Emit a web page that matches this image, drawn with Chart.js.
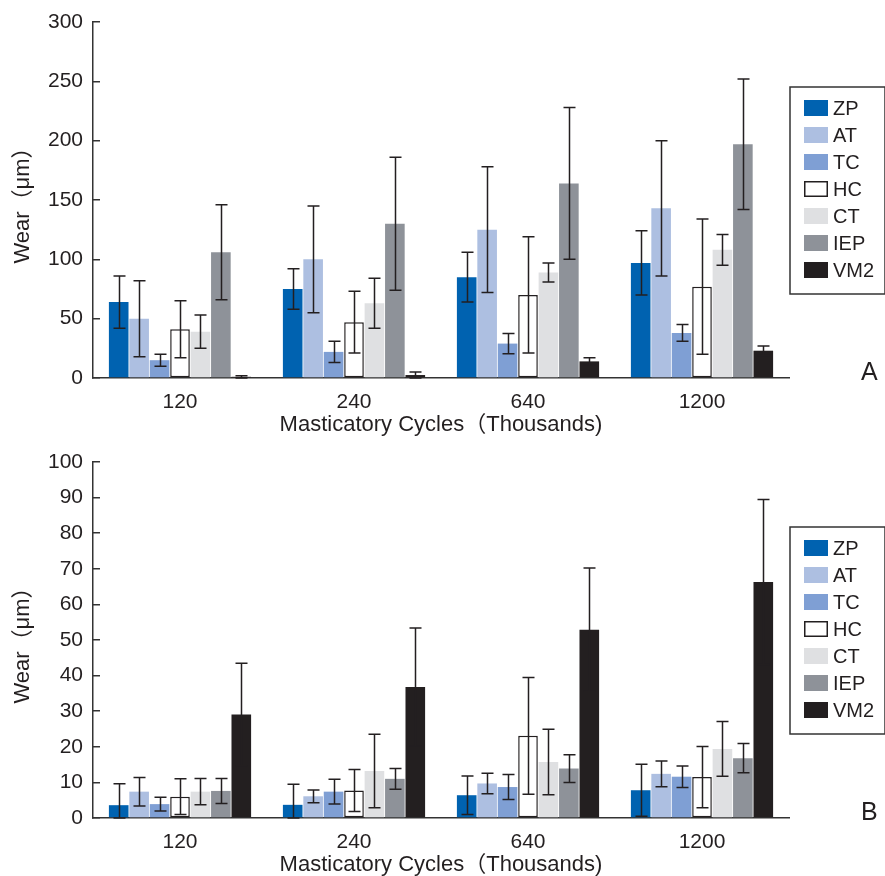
<!DOCTYPE html>
<html>
<head>
<meta charset="utf-8">
<script src="https://cdn.jsdelivr.net/npm/chart.js@4.4.1/dist/chart.umd.min.js"></script>
<style>
html, body { margin: 0; padding: 0; background: #fff; overflow: hidden; }
.painel { position: absolute; left: 0; width: 885px; height: 440px; }
#painelA { top: 0; }
#painelB { top: 440px; }
</style>
</head>
<body>
<div class="painel" id="painelA"><canvas id="graficoA" width="885" height="440"></canvas></div>
<div class="painel" id="painelB"><canvas id="graficoB" width="885" height="440"></canvas></div>
<script>
// Data
const categorias = ['120', '240', '640', '1200'];
const materiais = ['ZP', 'AT', 'TC', 'HC', 'CT', 'IEP', 'VM2'];
const cores = ['#0062b0', '#adbfe1', '#7f9fd4', '#ffffff', '#dfe0e2', '#8e9299', '#231f20'];

const ticksA = [0, 50, 100, 150, 200, 250, 300];
const ticksB = [0, 10, 20, 30, 40, 50, 60, 70, 80, 90, 100];

// Panel A - mean wear
const zpA  = [64, 75, 85, 97];
const atA  = [50, 100, 125, 143];
const tcA  = [15, 22, 29, 38];
const hcA  = [41, 47, 70, 77];
const ctA  = [39, 63, 89, 108];
const iepA = [106, 130, 164, 197];
const vm2A = [1, 2.5, 14, 23];
// Panel A - standard deviation
const zpErrA  = [22, 17, 21, 27];
const atErrA  = [32, 45, 53, 57];
const tcErrA  = [5, 9, 8.5, 7];
const hcErrA  = [24, 26, 49, 57];
const ctErrA  = [14, 21, 8, 13];
const iepErrA = [40, 56, 64, 55];
const vm2ErrA = [1, 2.5, 3, 4];

// Panel B - mean wear
const zpB  = [3.6, 3.7, 6.4, 7.8];
const atB  = [7.4, 6.1, 9.7, 12.4];
const tcB  = [3.9, 7.4, 8.7, 11.6];
const hcB  = [6.0, 7.7, 23.1, 11.5];
const ctB  = [7.4, 13.2, 15.7, 19.4];
const iepB = [7.6, 11.0, 13.9, 16.8];
const vm2B = [29.1, 36.8, 52.9, 66.3];
// Panel B - standard deviation
const zpErrB  = [6, 5.8, 5.4, 7.3];
const atErrB  = [4, 1.8, 2.9, 3.6];
const tcErrB  = [1.9, 3.5, 3.5, 3];
const hcErrB  = [5, 5.9, 16.4, 8.6];
const ctErrB  = [3.7, 10.3, 9.2, 7.7];
const iepErrB = [3.5, 2.9, 3.9, 4.1];
const vm2ErrB = [14.4, 16.6, 17.3, 23.2];

const fonte = '"Liberation Sans", "Noto Sans CJK JP", sans-serif';
const tinta = '#231f20';

Chart.defaults.font.family = fonte;
Chart.defaults.color = tinta;

// 1. Error bars, drawn through the y scale
const barrasErro = {
  id: 'barrasErro',
  afterDatasetsDraw(chart) {
    const ctx = chart.ctx;
    const escalaY = chart.scales.y;
    ctx.save();
    ctx.strokeStyle = tinta;
    ctx.lineWidth = 1.5;
    chart.data.datasets.forEach((ds, i) => {
      const meta = chart.getDatasetMeta(i);
      meta.data.forEach((barra, j) => {
        const v = ds.data[j];
        const e = ds.erros[j];
        const yTopo = escalaY.getPixelForValue(v + e);
        const yBase = escalaY.getPixelForValue(Math.max(v - e, 0));
        const x = Math.round(barra.x) + 0.5;
        ctx.beginPath();
        ctx.moveTo(x, yTopo); ctx.lineTo(x, yBase);
        ctx.moveTo(x - 6, yTopo); ctx.lineTo(x + 6, yTopo);
        ctx.moveTo(x - 6, yBase); ctx.lineTo(x + 6, yBase);
        ctx.stroke();
      });
    });
    ctx.restore();
  }
};

// 2. Boxed legend on the right plus the panel letter
function legendaCaixa(letra) {
  return {
    id: 'legendaCaixa',
    afterDraw(chart) {
      const ctx = chart.ctx;
      ctx.save();
      ctx.strokeStyle = '#333';
      ctx.lineWidth = 1.5;
      ctx.strokeRect(790, 87, 95, 207);
      ctx.font = '20px ' + fonte;
      ctx.textBaseline = 'middle';
      chart.data.datasets.forEach((ds, i) => {
        const topo = 100 + i * 27;
        ctx.fillStyle = ds.backgroundColor;
        ctx.fillRect(804, topo, 24, 16);
        if (ds.borderWidth) {
          ctx.strokeStyle = tinta;
          ctx.lineWidth = 1.5;
          ctx.strokeRect(804.75, topo + 0.75, 22.5, 14.5);
        }
        ctx.fillStyle = tinta;
        ctx.fillText(ds.label, 833, topo + 9);
      });
      ctx.font = '25px ' + fonte;
      ctx.textBaseline = 'alphabetic';
      ctx.fillText(letra, 861, 380);
      ctx.restore();
    }
  };
}

function montarDatasets(valores, erros) {
  return materiais.map((nome, i) => ({
    label: nome,
    data: valores[i],
    erros: erros[i],
    backgroundColor: cores[i],
    borderColor: tinta,
    borderWidth: nome === 'HC' ? 1.5 : 0,
    borderSkipped: false
  }));
}

function criarGrafico(id, letra, valores, erros, ticksY) {
  const passo = ticksY[1] - ticksY[0];
  return new Chart(document.getElementById(id), {
    type: 'bar',
    data: {
      labels: categorias,
      datasets: montarDatasets(valores, erros)
    },
    options: {
      responsive: false,
      animation: false,
      layout: { padding: { top: 22, right: 96, bottom: 0, left: 0 } },
      datasets: {
        bar: { categoryPercentage: 0.822, barPercentage: 0.96 }
      },
      plugins: {
        legend: { display: false },
        tooltip: { enabled: false }
      },
      scales: {
        x: {
          grid: { display: false },
          border: { display: true, color: '#333', width: 1.5 },
          ticks: { padding: 4, color: tinta, font: { size: 21 } },
          title: {
            display: true,
            text: 'Masticatory Cycles（Thousands)',
            color: tinta,
            font: { size: 22 },
            padding: { top: 0, bottom: 2 }
          },
          afterFit(escala) { escala.height = 62; }
        },
        y: {
          min: ticksY[0],
          max: ticksY[ticksY.length - 1],
          ticks: {
            stepSize: passo,
            padding: 17,
            color: tinta,
            font: { size: 21 },
            callback: (v, i) => ticksY[i]
          },
          grid: {
            display: true,
            drawOnChartArea: false,
            drawTicks: true,
            tickLength: -7,
            color: '#333',
            lineWidth: 1.5
          },
          border: { display: true, color: '#333', width: 1.5 },
          title: {
            display: true,
            text: 'Wear（μm）',
            color: tinta,
            font: { size: 22 },
            padding: { top: 10, bottom: 0 }
          },
          afterFit(escala) {
            // fixed width, and no extra room asked for the end labels
            escala.width = 93;
            escala.paddingTop = 12;
            escala.paddingBottom = 12;
          }
        }
      }
    },
    plugins: [barrasErro, legendaCaixa(letra)]
  });
}

criarGrafico('graficoA', 'A',
  [zpA, atA, tcA, hcA, ctA, iepA, vm2A],
  [zpErrA, atErrA, tcErrA, hcErrA, ctErrA, iepErrA, vm2ErrA],
  ticksA);

criarGrafico('graficoB', 'B',
  [zpB, atB, tcB, hcB, ctB, iepB, vm2B],
  [zpErrB, atErrB, tcErrB, hcErrB, ctErrB, iepErrB, vm2ErrB],
  ticksB);
</script>
</body>
</html>
